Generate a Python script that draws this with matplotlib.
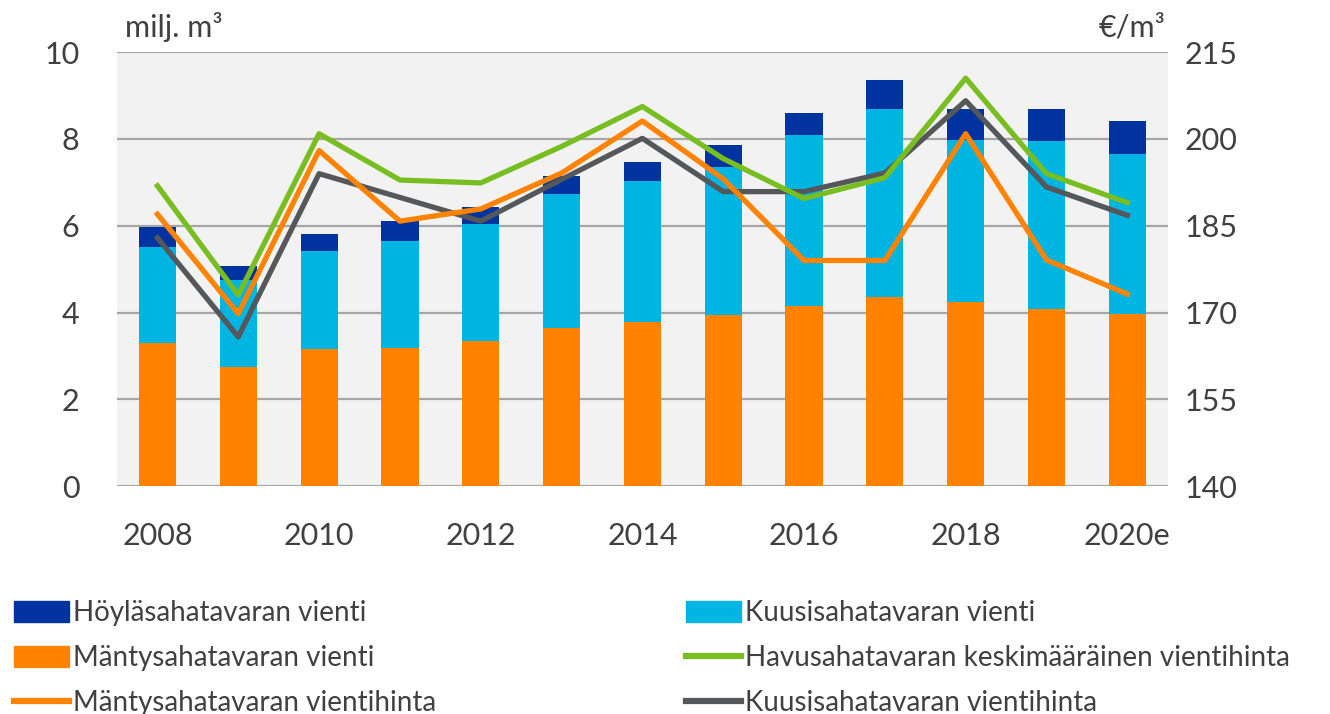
import numpy as np
import matplotlib
matplotlib.use('Agg')
import matplotlib.pyplot as plt
from matplotlib.patches import Patch
from matplotlib.lines import Line2D

years = ['2008', '2009', '2010', '2011', '2012', '2013', '2014',
         '2015', '2016', '2017', '2018', '2019', '2020e']
# milj. m3
manty = [3.30, 2.74, 3.16, 3.18, 3.34, 3.65, 3.79, 3.94, 4.16, 4.36, 4.25, 4.09, 3.96]
kuusi = [2.21, 2.02, 2.27, 2.47, 2.69, 3.08, 3.25, 3.42, 3.93, 4.34, 3.73, 3.86, 3.69]
hoyla = [0.46, 0.32, 0.39, 0.45, 0.40, 0.41, 0.42, 0.50, 0.51, 0.66, 0.71, 0.74, 0.76]
# EUR/m3
havu_hinta = [191.9, 173.0, 200.9, 192.9, 192.4, 198.7, 205.6, 196.6, 189.7, 193.3, 210.5, 194.0, 189.0]
manty_hinta = [187.0, 169.8, 198.0, 185.8, 187.9, 194.1, 203.1, 193.1, 179.0, 179.0, 200.9, 179.1, 173.2]
kuusi_hinta = [182.9, 165.8, 194.0, 189.9, 185.8, 193.0, 200.1, 190.9, 190.9, 194.1, 206.6, 191.7, 186.8]

c_hoyla = '#0033A0'
c_kuusi = '#00B5E2'
c_manty = '#FF8200'
c_green = '#78BE20'
c_gray = '#54585A'
txt = '#404040'

plt.rcParams['font.family'] = ['Lato', 'DejaVu Sans']

fig = plt.figure(figsize=(13.3, 7.14), dpi=100)
ax = fig.add_axes([0.088, 0.319, 0.79, 0.608])
ax.set_facecolor('#F2F2F2')
x = np.arange(len(years))
w = 0.46

b1 = np.array(manty)
b2 = b1 + np.array(kuusi)
ax.bar(x, manty, w, color=c_manty, zorder=2)
ax.bar(x, kuusi, w, bottom=b1, color=c_kuusi, zorder=2)
ax.bar(x, hoyla, w, bottom=b2, color=c_hoyla, zorder=2)

ax.set_ylim(0, 10)
ax.set_yticks([0, 2, 4, 6, 8, 10])
ax.set_xlim(-0.5, len(years) - 0.5)
ax.set_xticks([0, 2, 4, 6, 8, 10, 12])
ax.set_xticklabels([years[i] for i in [0, 2, 4, 6, 8, 10, 12]])
ax.grid(axis='y', color='#A6A6A6', linewidth=1.6, zorder=1)
for s in ax.spines.values():
    s.set_visible(False)
ax.tick_params(length=0, labelsize=22, colors=txt)
ax.tick_params(axis='y', pad=27)
ax.tick_params(axis='x', pad=26)

ax2 = ax.twinx()
ax2.set_ylim(140, 215)
ax2.set_yticks([140, 155, 170, 185, 200, 215])
for s in ax2.spines.values():
    s.set_visible(False)
ax2.tick_params(length=0, labelsize=22, colors=txt, pad=12)
ax2.plot(x, kuusi_hinta, color=c_gray, lw=3.8, zorder=3)
ax2.plot(x, manty_hinta, color=c_manty, lw=3.8, zorder=4)
ax2.plot(x, havu_hinta, color=c_green, lw=3.8, zorder=5)

fig.text(0.094, 0.962, 'milj. m³', fontsize=22, color=txt, va='center')
fig.text(0.876, 0.962, '€/m³', fontsize=22, color=txt, va='center', ha='right')

handles = [
    Patch(color=c_hoyla), Patch(color=c_manty),
    Line2D([], [], color=c_manty, lw=4.5),
    Patch(color=c_kuusi), Line2D([], [], color=c_green, lw=4.5),
    Line2D([], [], color=c_gray, lw=4.5),
]
labels = ['Höyläsahatavaran vienti', 'Mäntysahatavaran vienti',
          'Mäntysahatavaran vientihinta', 'Kuusisahatavaran vienti',
          'Havusahatavaran keskimääräinen vientihinta',
          'Kuusisahatavaran vientihinta']
leg = fig.legend(handles, labels, ncol=2, loc='upper left',
                 bbox_to_anchor=(0.002, 0.175), frameon=False, fontsize=20,
                 handlelength=2.0, handleheight=0.75, handletextpad=0.12,
                 labelspacing=0.68, columnspacing=9.0, borderaxespad=0)
for t in leg.get_texts():
    t.set_color(txt)

fig.savefig('out.png', dpi=100)
